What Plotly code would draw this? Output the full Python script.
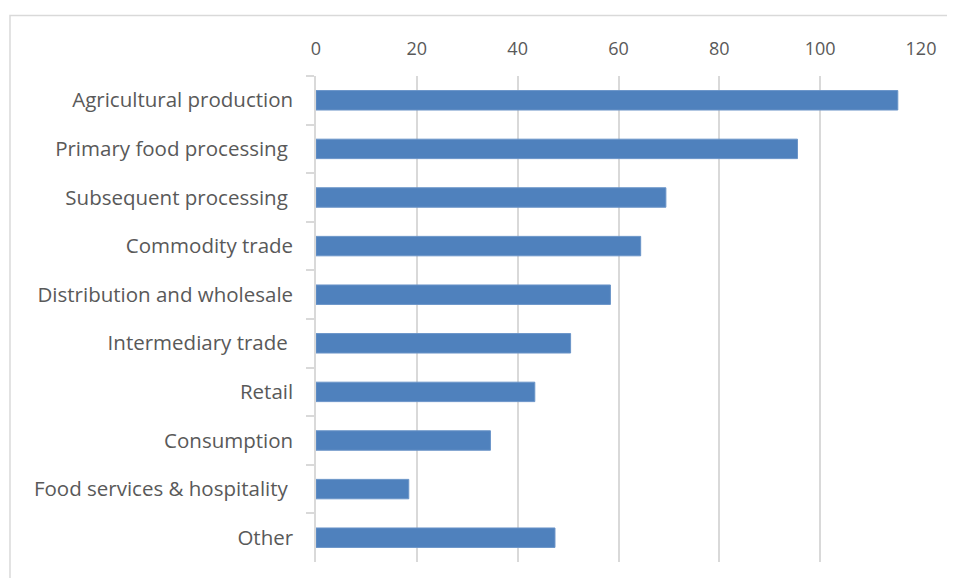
import plotly.graph_objects as go

categories = [
    "Agricultural production",
    "Primary food processing\u00a0",
    "Subsequent processing\u00a0",
    "Commodity trade",
    "Distribution and wholesale",
    "Intermediary trade\u00a0",
    "Retail",
    "Consumption",
    "Food services & hospitality\u00a0",
    "Other",
]
values = [115.4, 95.5, 69.4, 64.4, 58.4, 50.5, 43.4, 34.6, 18.4, 47.4]
x_ticks = [0, 20, 40, 60, 80, 100, 120]

TEXT = "#595959"
GRID = "#d9d9d9"

fig = go.Figure(
    go.Bar(
        x=values,
        y=categories,
        orientation="h",
        marker=dict(color="#4f81bd", line=dict(color="#6a94c8", width=1)),
        hoverinfo="x+y",
    )
)

fig.update_layout(
    width=955,
    height=578,
    margin=dict(l=308, r=42, t=68, b=24),
    paper_bgcolor="white",
    plot_bgcolor="white",
    font=dict(family="Open Sans", size=20, color=TEXT),
    bargap=0.6,
    showlegend=False,
    shapes=[
        dict(
            type="rect", xref="paper", yref="paper",
            x0=-0.5058, x1=2.0, y0=-1.0, y1=1.1245,
            line=dict(color=GRID, width=1.5), fillcolor="rgba(0,0,0,0)",
            layer="below",
        )
    ],
)

fig.update_xaxes(
    side="top",
    range=[0, 120],
    tickvals=x_ticks,
    showgrid=True,
    gridcolor=GRID,
    gridwidth=1.5,
    zeroline=False,
    showline=False,
    ticks="",
    ticklabelstandoff=16,
    tickfont=dict(size=18, color=TEXT),
)

fig.update_yaxes(
    autorange="reversed",
    showgrid=False,
    showline=True,
    linecolor=GRID,
    linewidth=1.5,
    ticks="outside",
    tickson="boundaries",
    ticklen=8,
    tickcolor=GRID,
    tickwidth=1.5,
    ticklabelstandoff=17,
    tickfont=dict(size=20.5, color=TEXT),
)

fig.write_html("out.html")
